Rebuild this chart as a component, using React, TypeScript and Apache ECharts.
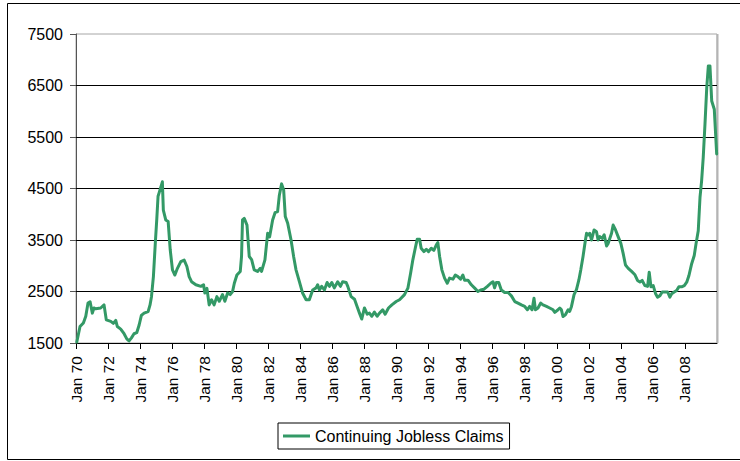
import React, { useEffect, useRef } from "react";
import * as echarts from "echarts";

const seriesName = "Continuing Jobless Claims";

// Decimal years of the traced points
const years = [
  1970.05, 1970.25, 1970.46, 1970.61, 1970.75, 1970.88, 1971.02, 1971.12, 1971.23, 1971.54,
  1971.75, 1971.89, 1972.17, 1972.33, 1972.48, 1972.58, 1972.79, 1973.0, 1973.17, 1973.31,
  1973.46, 1973.62, 1973.79, 1973.94, 1974.08, 1974.25, 1974.5, 1974.62, 1974.71, 1974.83,
  1974.96, 1975.04, 1975.12, 1975.19, 1975.39, 1975.45, 1975.6, 1975.75, 1975.88, 1976.02,
  1976.17, 1976.33, 1976.54, 1976.75, 1976.92, 1977.06, 1977.21, 1977.48, 1977.79, 1977.96,
  1978.04, 1978.17, 1978.31, 1978.46, 1978.62, 1978.79, 1978.94, 1979.14, 1979.29, 1979.46,
  1979.62, 1979.77, 1979.88, 1980.04, 1980.25, 1980.33, 1980.39, 1980.5, 1980.67, 1980.81,
  1980.96, 1981.12, 1981.33, 1981.5, 1981.58, 1981.79, 1981.96, 1982.08, 1982.27, 1982.42,
  1982.58, 1982.69, 1982.83, 1982.96, 1983.06, 1983.21, 1983.42, 1983.58, 1983.73, 1983.94,
  1984.14, 1984.36, 1984.56, 1984.77, 1984.98, 1985.08, 1985.19, 1985.33, 1985.5, 1985.67,
  1985.81, 1985.96, 1986.12, 1986.33, 1986.5, 1986.64, 1986.86, 1986.96, 1987.17, 1987.38,
  1987.54, 1987.69, 1987.83, 1988.0, 1988.17, 1988.31, 1988.46, 1988.62, 1988.79, 1988.94,
  1989.14, 1989.29, 1989.5, 1989.71, 1989.98, 1990.19, 1990.5, 1990.71, 1990.88, 1991.02,
  1991.17, 1991.29, 1991.44, 1991.54, 1991.71, 1991.86, 1992.0, 1992.17, 1992.33, 1992.48,
  1992.58, 1992.69, 1992.83, 1993.0, 1993.17, 1993.31, 1993.52, 1993.67, 1993.83, 1994.0,
  1994.14, 1994.25, 1994.46, 1994.67, 1994.88, 1995.08, 1995.25, 1995.46, 1995.67, 1995.88,
  1996.02, 1996.12, 1996.23, 1996.38, 1996.54, 1996.75, 1996.96, 1997.17, 1997.38, 1997.58,
  1997.79, 1998.0, 1998.17, 1998.31, 1998.46, 1998.58, 1998.67, 1998.83, 1999.0, 1999.14,
  1999.36, 1999.56, 1999.77, 1999.88, 2000.08, 2000.19, 2000.29, 2000.39, 2000.54, 2000.71,
  2000.81, 2000.92, 2001.08, 2001.23, 2001.38, 2001.5, 2001.64, 2001.79, 2001.86, 2001.96,
  2002.06, 2002.17, 2002.33, 2002.48, 2002.58, 2002.69, 2002.83, 2002.96, 2003.11, 2003.21,
  2003.42, 2003.52, 2003.67, 2003.83, 2004.0, 2004.14, 2004.29, 2004.46, 2004.67, 2004.88,
  2005.04, 2005.19, 2005.33, 2005.5, 2005.67, 2005.77, 2005.88, 2006.02, 2006.17, 2006.29,
  2006.44, 2006.58, 2006.75, 2006.92, 2007.06, 2007.17, 2007.33, 2007.48, 2007.62, 2007.79,
  2007.96, 2008.11, 2008.25, 2008.42, 2008.58, 2008.69, 2008.83, 2008.94, 2009.04, 2009.14,
  2009.25, 2009.36, 2009.46, 2009.56, 2009.67, 2009.83, 2009.98,
];

// Continuing claims (thousands)
const claims = [
  1520, 1820, 1890, 2020, 2275, 2300, 2080, 2180, 2165, 2180,
  2240, 1950, 1920, 1880, 1940, 1820, 1770, 1680, 1580, 1540,
  1600, 1680, 1700, 1850, 2035, 2080, 2110, 2240, 2400, 2790,
  3500, 3900, 4350, 4420, 4630, 4080, 3890, 3860, 3310, 2920,
  2820, 2950, 3080, 3110, 2985, 2790, 2690, 2630, 2600, 2630,
  2470, 2560, 2240, 2340, 2240, 2400, 2310, 2440, 2310, 2470,
  2440, 2500, 2660, 2820, 2890, 3180, 3890, 3920, 3790, 3180,
  3120, 2920, 2890, 2950, 2890, 3115, 3630, 3560, 3890, 4030,
  4050, 4370, 4590, 4470, 3955, 3825, 3500, 3180, 2920, 2690,
  2470, 2340, 2340, 2530, 2570, 2630, 2530, 2600, 2530, 2675,
  2600, 2675, 2570, 2690, 2600, 2690, 2675, 2600, 2400, 2350,
  2210, 2080, 1965, 2180, 2060, 2080, 2020, 2100, 2020, 2080,
  2145, 2060, 2180, 2240, 2305, 2340, 2440, 2565, 2855, 3115,
  3340, 3515, 3515, 3340, 3275, 3320, 3275, 3340, 3300, 3400,
  3450, 3180, 2920, 2760, 2660, 2760, 2740, 2820, 2790, 2740,
  2820, 2720, 2720, 2630, 2565, 2500, 2530, 2545, 2600, 2660,
  2690, 2570, 2675, 2675, 2530, 2480, 2480, 2415, 2305, 2275,
  2240, 2210, 2145, 2210, 2145, 2370, 2145, 2180, 2275, 2240,
  2210, 2180, 2145, 2095, 2145, 2180, 2145, 2015, 2050, 2145,
  2115, 2210, 2440, 2535, 2725, 2920, 3180, 3500, 3630, 3600,
  3630, 3500, 3695, 3660, 3500, 3565, 3530, 3600, 3385, 3435,
  3630, 3790, 3695, 3565, 3435, 3245, 3015, 2950, 2890, 2825,
  2715, 2685, 2715, 2615, 2600, 2875, 2590, 2615, 2455, 2390,
  2420, 2490, 2490, 2490, 2390, 2455, 2490, 2520, 2590, 2590,
  2615, 2680, 2810, 3040, 3200, 3425, 3680, 4330, 4650, 5100,
  5750, 6460, 6880, 6880, 6200, 6040, 5170,
];

const yTickValues = [1500, 2500, 3500, 4500, 5500, 6500, 7500];
const gridLineValues = [2500, 3500, 4500, 5500, 6500];

const FONT = "'Liberation Sans', Arial, sans-serif";

export default function App() {
  const ref = useRef<HTMLDivElement>(null);

  useEffect(() => {
    if (!ref.current) return;
    const chart = echarts.init(ref.current, null, { renderer: "svg" });
    const data = years.map((y, i) => [y, claims[i]]);
    chart.setOption({
      animation: false,
      backgroundColor: "#fff",
      textStyle: { fontFamily: FONT },
      graphic: [
        {
          type: "rect",
          shape: { x: 7.5, y: 3.5, width: 745, height: 456 },
          style: { fill: "none", stroke: "#000", lineWidth: 1 },
          silent: true,
          z: -1,
        },
        {
          type: "line",
          shape: { x1: 717.5, y1: 34, x2: 717.5, y2: 343 },
          style: { stroke: "#b4b4b4", lineWidth: 2 },
          silent: true,
          z: 0,
        },
      ],
      grid: {
        left: 76,
        top: 34,
        right: 23,
        bottom: 118,
        show: true,
        borderColor: "#a6a6a6",
        borderWidth: 1,
        backgroundColor: "transparent",
      },
      legend: {
        left: 278,
        top: 423,
        orient: "horizontal",
        borderColor: "#000",
        borderWidth: 1,
        padding: [5, 6, 5, 5],
        icon: "rect",
        itemWidth: 27,
        itemHeight: 3,
        textStyle: { fontFamily: FONT, fontSize: 16, color: "#000" },
        data: [seriesName],
      },
      xAxis: {
        type: "value",
        min: 1970,
        max: 2010,
        interval: 2,
        axisLine: { show: true, lineStyle: { color: "#000", width: 1 } },
        axisTick: { show: true, length: 6, lineStyle: { color: "#000" } },
        splitLine: { show: false },
        axisLabel: {
          rotate: 90,
          margin: 13,
          fontSize: 15.5,
          color: "#000",
          fontFamily: FONT,
          showMaxLabel: false,
          formatter: (v: number) =>
            v >= 2010 ? "" : "Jan " + String(Math.round(v) % 100).padStart(2, "0"),
        },
      },
      yAxis: {
        type: "value",
        min: 1500,
        max: 7500,
        interval: 500,
        axisLine: { show: true, lineStyle: { color: "#555", width: 1 } },
        axisTick: {
          show: true,
          length: 6,
          customValues: yTickValues,
          lineStyle: { color: "#555" },
        },
        splitLine: { show: false },
        axisLabel: {
          margin: 13,
          fontSize: 16,
          color: "#000",
          fontFamily: FONT,
          customValues: yTickValues,
          formatter: (v: number) => String(v),
        },
      },
      series: [
        {
          name: seriesName,
          type: "line",
          data,
          showSymbol: false,
          symbol: "none",
          smooth: false,
          lineStyle: { color: "#339966", width: 3, join: "round", cap: "round" },
          itemStyle: { color: "#339966" },
          markLine: {
            silent: true,
            symbol: "none",
            label: { show: false },
            lineStyle: { color: "#000", width: 1, type: "solid" },
            z: 1,
            data: gridLineValues.map((v) => ({ yAxis: v })),
          },
          z: 3,
        },
      ],
    });
    return () => chart.dispose();
  }, []);

  return (
    <div
      ref={ref}
      style={{ position: "absolute", left: 0, top: 0, width: 740, height: 461 }}
    />
  );
}
